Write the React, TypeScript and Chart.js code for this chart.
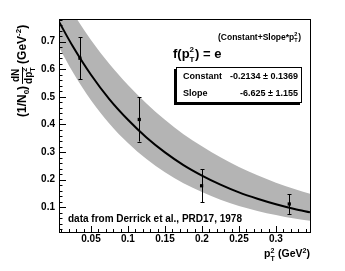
import React, { useEffect, useRef } from "react";
import { Chart, registerables } from "chart.js";

Chart.register(...registerables);

// ---- data ----
const fitX = [0.0068, 0.025, 0.05, 0.075, 0.1, 0.125, 0.15, 0.175, 0.2, 0.225, 0.25, 0.275, 0.3, 0.325, 0.346];
const fitY = [0.772, 0.685, 0.58, 0.491, 0.417, 0.353, 0.299, 0.253, 0.215, 0.182, 0.154, 0.131, 0.111, 0.094, 0.082];
const bandUpper = [0.887, 0.807, 0.706, 0.619, 0.543, 0.476, 0.417, 0.365, 0.321, 0.281, 0.246, 0.216, 0.189, 0.166, 0.149];
const bandLower = [0.68, 0.592, 0.488, 0.403, 0.333, 0.275, 0.227, 0.187, 0.155, 0.127, 0.105, 0.087, 0.072, 0.059, 0.051];

const dataX = [0.0351, 0.1153, 0.1995, 0.318];
const dataY = [0.64, 0.418, 0.178, 0.112];
const dataErr = [0.076, 0.08, 0.06, 0.036];

const xRange = [0.0068, 0.346];
const yRange = [0.0105, 0.782];
const xMajorTicks = [0.05, 0.1, 0.15, 0.2, 0.25, 0.3];
const xTickLabels = ["0.05", "0.1", "0.15", "0.2", "0.25", "0.3"];
const yMajorTicks = [0.1, 0.2, 0.3, 0.4, 0.5, 0.6, 0.7];
const yTickLabels = ["0.1", "0.2", "0.3", "0.4", "0.5", "0.6", "0.7"];
const xMinorStep = 0.01;
const yMinorStep = 0.02;

const fitParamNames = ["Constant", "Slope"];
const fitParamValues = ["-0.2134 \u00b1 0.1369", "-6.625 \u00b1 1.155"];
const sourceNote = "data from Derrick et al., PRD17, 1978";

const FONT = '"Liberation Sans", Arial, Helvetica, sans-serif';
const bf = (s: number) => `bold ${s}px ${FONT}`;

type Seg =
  | { t: string; size: number; dy?: number }
  | { sup: string; sub: string; size: number; supDy: number; subDy: number };

function drawRich(ctx: CanvasRenderingContext2D, x: number, y: number, segs: Seg[]) {
  let cx = x;
  for (const s of segs) {
    if ("t" in s) {
      ctx.font = bf(s.size);
      ctx.fillText(s.t, cx, y + (s.dy || 0));
      cx += ctx.measureText(s.t).width;
    } else {
      ctx.font = bf(s.size);
      ctx.fillText(s.sup, cx, y + s.supDy);
      ctx.fillText(s.sub, cx, y + s.subDy);
      cx += Math.max(ctx.measureText(s.sup).width, ctx.measureText(s.sub).width) + 0.5;
    }
  }
  return cx - x;
}

function richWidth(ctx: CanvasRenderingContext2D, segs: Seg[]) {
  let w = 0;
  for (const s of segs) {
    ctx.font = bf(s.size);
    if ("t" in s) w += ctx.measureText(s.t).width;
    else w += Math.max(ctx.measureText(s.sup).width, ctx.measureText(s.sub).width) + 0.5;
  }
  return w;
}

const decorPlugin = {
  id: "rootDecor",
  beforeDatasetDraw(chart: any, args: any) {
    if (args.index !== 3) return;
    const ctx = chart.ctx as CanvasRenderingContext2D;
    const xs = chart.scales.x;
    const ys = chart.scales.y;
    ctx.save();
    ctx.strokeStyle = "#000";
    ctx.lineWidth = 1;
    for (let i = 0; i < dataX.length; i++) {
      const px = Math.round(xs.getPixelForValue(dataX[i])) + 0.5;
      const top = ys.getPixelForValue(dataY[i] + dataErr[i]);
      const bot = ys.getPixelForValue(dataY[i] - dataErr[i]);
      ctx.beginPath();
      ctx.moveTo(px, top);
      ctx.lineTo(px, bot);
      ctx.moveTo(px - 2, Math.round(top) + 0.5);
      ctx.lineTo(px + 2, Math.round(top) + 0.5);
      ctx.moveTo(px - 2, Math.round(bot) + 0.5);
      ctx.lineTo(px + 2, Math.round(bot) + 0.5);
      ctx.stroke();
    }
    ctx.restore();
  },
  afterDatasetsDraw(chart: any) {
    const ctx = chart.ctx as CanvasRenderingContext2D;
    const xs = chart.scales.x;
    const ys = chart.scales.y;
    const a = chart.chartArea;
    ctx.save();
    ctx.strokeStyle = "#000";
    ctx.fillStyle = "#000";
    ctx.lineWidth = 1;
    // frame
    ctx.strokeRect(Math.round(a.left) + 0.5, Math.round(a.top) + 0.5, Math.round(a.right - a.left), Math.round(a.bottom - a.top));
    // ticks
    ctx.beginPath();
    for (let v = Math.ceil(yRange[0] / yMinorStep) * yMinorStep; v <= yRange[1] + 1e-9; v += yMinorStep) {
      const isMajor = yMajorTicks.some((m) => Math.abs(m - v) < 1e-6);
      const py = Math.round(ys.getPixelForValue(v)) + 0.5;
      ctx.moveTo(a.left, py);
      ctx.lineTo(a.left + (isMajor ? 7 : 3.5), py);
    }
    for (let v = Math.ceil(xRange[0] / xMinorStep) * xMinorStep; v <= xRange[1] + 1e-9; v += xMinorStep) {
      const isMajor = xMajorTicks.some((m) => Math.abs(m - v) < 1e-6);
      const px = Math.round(xs.getPixelForValue(v)) + 0.5;
      ctx.moveTo(px, a.bottom);
      ctx.lineTo(px, a.bottom - (isMajor ? 6 : 3));
    }
    ctx.stroke();
    // tick labels
    ctx.font = bf(10);
    ctx.textAlign = "right";
    ctx.textBaseline = "middle";
    yMajorTicks.forEach((v, i) => ctx.fillText(yTickLabels[i], a.left - 4, ys.getPixelForValue(v)));
    ctx.textAlign = "center";
    ctx.textBaseline = "middle";
    xMajorTicks.forEach((v, i) => ctx.fillText(xTickLabels[i], xs.getPixelForValue(v), a.bottom + 7));

    ctx.textAlign = "left";
    ctx.textBaseline = "alphabetic";
    // note
    ctx.font = bf(10);
    ctx.fillText(sourceNote, a.left + 9, a.bottom - 10);

    // x title
    const xt: Seg[] = [
      { t: "p", size: 10.5 },
      { sup: "2", sub: "T", size: 7, supDy: -4, subDy: 4 },
      { t: " (GeV", size: 10.5 },
      { t: "2", size: 7, dy: -4 },
      { t: ")", size: 10.5 },
    ];
    const xw = richWidth(ctx, xt);
    drawRich(ctx, a.right - xw, a.bottom + 25, xt);

    // formula
    drawRich(ctx, 173, 58, [
      { t: "f(p", size: 13 },
      { sup: "2", sub: "T", size: 8, supDy: -6, subDy: 4 },
      { t: ") = e", size: 13 },
    ]);
    drawRich(ctx, 218, 40, [
      { t: "(Constant+Slope*p", size: 8.5 },
      { sup: "2", sub: "T", size: 5.5, supDy: -4, subDy: 2 },
      { t: ")", size: 8.5 },
    ]);

    // stats box
    const bx = 176, by = 67, bw = 126, bh = 36;
    ctx.fillStyle = "#000";
    ctx.fillRect(bx - 2, by + 2, bw, bh);
    ctx.fillStyle = "#fff";
    ctx.fillRect(bx, by, bw, bh);
    ctx.strokeRect(bx + 0.5, by + 0.5, bw - 1, bh - 1);
    ctx.fillStyle = "#000";
    ctx.font = bf(9);
    ctx.textBaseline = "middle";
    fitParamNames.forEach((n, i) => {
      ctx.textAlign = "left";
      ctx.fillText(n, bx + 7, by + 10 + i * 17);
      ctx.textAlign = "right";
      ctx.fillText(fitParamValues[i], bx + bw - 4, by + 10 + i * 17);
    });

    // y title (rotated)
    ctx.save();
    ctx.translate(26, 117);
    ctx.rotate(-Math.PI / 2);
    ctx.textAlign = "left";
    ctx.textBaseline = "alphabetic";
    let cx = 0;
    cx += drawRich(ctx, cx, 0, [
      { t: "(1/N", size: 12 },
      { t: "0", size: 8, dy: 3 },
      { t: ")", size: 12 },
    ]);
    cx += 2;
    const num: Seg[] = [{ t: "dN", size: 10 }];
    const den: Seg[] = [
      { t: "dp", size: 10 },
      { sup: "2", sub: "T", size: 7, supDy: -5, subDy: 3 },
    ];
    const nw = richWidth(ctx, num);
    const dw = richWidth(ctx, den);
    const fw = Math.max(nw, dw);
    drawRich(ctx, cx + (fw - nw) / 2, -7, num);
    drawRich(ctx, cx + (fw - dw) / 2, 6, den);
    ctx.fillRect(cx, -4, fw, 1);
    cx += fw + 3;
    drawRich(ctx, cx, 0, [
      { t: "(GeV", size: 12 },
      { t: "-2", size: 8, dy: -5 },
      { t: ")", size: 12 },
    ]);
    ctx.restore();

    ctx.restore();
  },
};

export default function App() {
  const ref = useRef<HTMLCanvasElement | null>(null);
  useEffect(() => {
    document.body.style.margin = "0";
    if (!ref.current) return;
    const line = (ys: number[]) => fitX.map((x, i) => ({ x, y: ys[i] }));
    const chart = new Chart(ref.current, {
      type: "line",
      data: {
        datasets: [
          {
            data: line(bandUpper),
            borderWidth: 0,
            pointRadius: 0,
            backgroundColor: "rgb(180,180,180)",
            fill: "+1",
            order: 10,
            cubicInterpolationMode: "monotone",
          },
          {
            data: line(bandLower),
            borderWidth: 0,
            pointRadius: 0,
            backgroundColor: "rgb(180,180,180)",
            fill: false,
            order: 11,
            cubicInterpolationMode: "monotone",
          },
          {
            data: line(fitY),
            borderColor: "#000",
            borderWidth: 2,
            pointRadius: 0,
            fill: false,
            order: 2,
            cubicInterpolationMode: "monotone",
          },
          {
            data: dataX.map((x, i) => ({ x, y: dataY[i] })),
            showLine: false,
            pointStyle: "rect",
            pointRadius: 2.3,
            backgroundColor: "#000",
            borderColor: "#000",
            borderWidth: 0,
            order: 0,
          },
        ],
      },
      options: {
        animation: false,
        responsive: false,
        maintainAspectRatio: false,
        layout: { padding: { left: 59, top: 19, right: 35, bottom: 39 } },
        plugins: { legend: { display: false }, tooltip: { enabled: false } },
        scales: {
          x: { type: "linear", min: xRange[0], max: xRange[1], display: false },
          y: { type: "linear", min: yRange[0], max: yRange[1], display: false },
        },
      },
      plugins: [decorPlugin],
    } as any);
    return () => chart.destroy();
  }, []);
  return (
    <div style={{ position: "absolute", left: 0, top: 0, width: 345, height: 271, background: "#fff" }}>
      <canvas ref={ref} width={345} height={271} />
    </div>
  );
}
